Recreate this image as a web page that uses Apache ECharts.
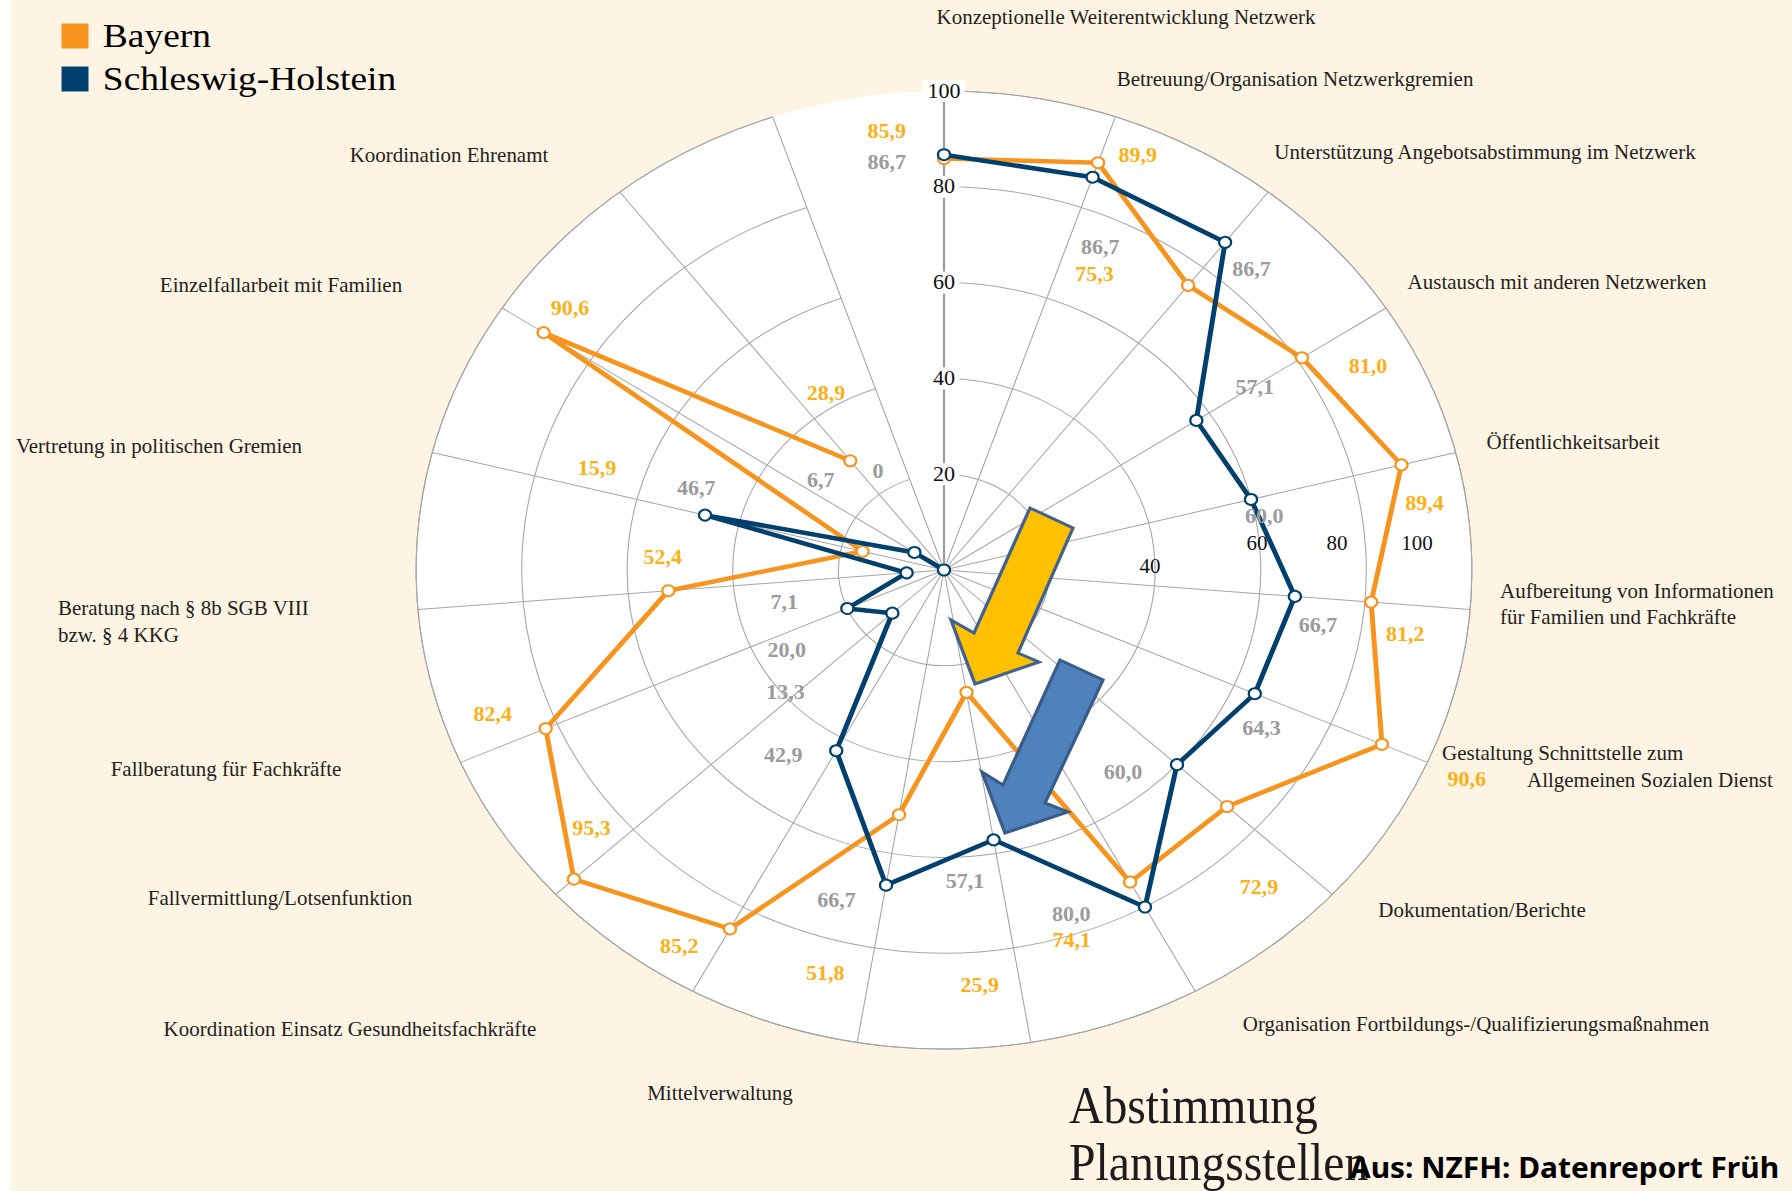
<!DOCTYPE html>
<html><head><meta charset="utf-8">
<script src="https://cdn.jsdelivr.net/npm/echarts@6/dist/echarts.min.js"></script>
<style>
html,body{margin:0;padding:0;width:1792px;height:1191px;overflow:hidden;background:#FEF4E4;}
#chart{position:absolute;left:0;top:0;width:1792px;height:1191px;transform:scaleX(1.102);transform-origin:944px 0;}
#strip{position:absolute;left:0;top:0;width:11px;height:1191px;background:#fff;z-index:5;}
</style></head><body>
<div id="chart"></div><div id="strip"></div>
<script>
// ---------- data ----------
const categories = [
  'Konzeptionelle Weiterentwicklung Netzwerk',
  'Betreuung/Organisation Netzwerkgremien',
  'Unterstützung Angebotsabstimmung im Netzwerk',
  'Austausch mit anderen Netzwerken',
  'Öffentlichkeitsarbeit',
  'Aufbereitung von Informationen\nfür Familien und Fachkräfte',
  'Gestaltung Schnittstelle zum\nAllgemeinen Sozialen Dienst',
  'Dokumentation/Berichte',
  'Organisation Fortbildungs-/Qualifizierungsmaßnahmen',
  'Abstimmung\nPlanungsstellen',
  'Mittelverwaltung',
  'Koordination Einsatz Gesundheitsfachkräfte',
  'Fallvermittlung/Lotsenfunktion',
  'Fallberatung für Fachkräfte',
  'Beratung nach § 8b SGB VIII\nbzw. § 4 KKG',
  'Vertretung in politischen Gremien',
  'Einzelfallarbeit mit Familien',
  'Koordination Ehrenamt',
  ''
];
const bayern = [85.9, 89.9, 75.3, 81.0, 89.4, 81.2, 90.6, 72.9, 74.1, 25.9, 51.8, 85.2, 95.3, 82.4, 52.4, 15.9, 90.6, 28.9, null];
const schleswigHolstein = [86.7, 86.7, 86.7, 57.1, 60.0, 66.7, 64.3, 60.0, 80.0, 57.1, 66.7, 42.9, 13.3, 20.0, 7.1, 46.7, 6.7, 0, null];
const seriesNames = ['Bayern', 'Schleswig-Holstein'];
const radiusMin = 0, radiusMax = 100, radiusStep = 20;
const extraAxisTickLabels = ['40', '60', '80', '100'];
const sourceNote = 'Aus: NZFH: Datenreport Früh';

// ---------- layout / style (not data) ----------
const K = 1.102, CX = 944, CY = 570, R = 479;
const px = x => CX + (x - CX) / K;
const bayernLabelOffsets = [[-52,-27],[36,-7],[-85,-11],[60,9],[21,38],[31,32],[77,35],[29,81],[-53,58],[12,293],[-67,159],[-46,17],[16,-51],[-48,-14],[-5,-33],[-241,-83],[24,-24],[-22,-67],[0,0]];
const shLabelOffsets = [[-52,8],[7,70],[24,27],[53,-33],[12,17],[21,29],[6,35],[-49,8],[-67,7],[-26,42],[-45,15],[-48,5],[-97,79],[-55,42],[-111,30],[-8,-27],[-85,-72],[-60,-99],[0,0]];
const catLabelPos = [
  [[1126,17,'center']], [[1295,79,'center']], [[1485,152,'center']], [[1557,282,'center']],
  [[1573,442,'center']], [[1500,591,'left'],[1500,617,'left']], [[1442,753,'left'],[1527,780,'left']],
  [[1482,910,'center']], [[1476,1024,'center']], [[1069,1106,'left'],[1069,1163,'left']],
  [[720,1093,'center']], [[350,1029,'center']], [[280,898,'center']], [[226,769,'center']],
  [[58,608,'left'],[58,635,'left']], [[159,446,'center']], [[281,285,'center']], [[449,155,'center']], []
];
const extraAxisPos = [[1150,566],[1257,543],[1337,543],[1417,543]];
const ORANGE = '#F7941D', BLUE = '#00406E', ORANGE_TXT = '#FBB017', GRAY_TXT = '#9B9B9B', GRID = '#A6A6A6';
const serif = '"Liberation Serif","Times New Roman",serif';

const fmt = v => (v === 0 ? '0' : Number(v).toFixed(1).replace('.', ','));

function txt(text, X, Y, align, font, fill, sx) {
  return { type: 'text', x: px(X), y: Y, scaleX: (sx || 1) / K, z: 50, silent: true,
    style: { text: text, font: font, fill: fill, align: align, textAlign: align,
             verticalAlign: 'middle', textVerticalAlign: 'middle' } };
}

const graphics = [];
// white plot disc behind the polar grid
graphics.push({ type: 'circle', z: -10, silent: true, shape: { cx: CX, cy: CY, r: R }, style: { fill: '#ffffff' } });
categories.forEach((c, i) => {
  const lines = c.split('\n');
  catLabelPos[i].forEach((p, j) => {
    if (i === 9) {
      graphics.push(txt(lines[j], p[0], p[1], p[2], '52px ' + serif, '#1E1B1C', 0.917));
    } else {
      graphics.push(txt(lines[j], p[0], p[1], p[2], '21px ' + serif, '#231F20', 1));
    }
  });
});
extraAxisTickLabels.forEach((t, i) => {
  graphics.push(txt(t, extraAxisPos[i][0], extraAxisPos[i][1], 'center', '21px ' + serif, '#111', 1));
});
graphics.push(txt(sourceNote, 1350, 1167, 'left', 'bold 29px "Noto Sans", sans-serif', '#000', 1.03));

const arrowPts = (pts) => pts.map(p => [px(p[0]), p[1]]);
graphics.push({ type: 'polygon', z: 40, silent: true,
  shape: { points: arrowPts([[1030,508],[1073,528],[1018,653],[1039,662],[975,684],[951,620],[974,633]]) },
  style: { fill: '#FFC000', stroke: '#41628F', lineWidth: 3, lineJoin: 'miter' } });
graphics.push({ type: 'polygon', z: 40, silent: true,
  shape: { points: arrowPts([[1060,660],[1103,680],[1045,803],[1068,812],[1005,833],[982,772],[1003,785]]) },
  style: { fill: '#4F81BD', stroke: '#385D8A', lineWidth: 3, lineJoin: 'miter' } });

function buildData(vals, offs) {
  return vals.map((v, i) => v == null ? '-' : { value: v, label: { offset: offs[i] } });
}

const chart = echarts.init(document.getElementById('chart'), null, { renderer: 'svg' });
chart.setOption({
  backgroundColor: '#FEF4E4',
  animation: false,
  legend: {
    data: seriesNames, orient: 'vertical', left: px(56), top: 14, itemWidth: 24.5, itemHeight: 25,
    itemGap: 9, icon: 'rect', selectedMode: false,
    itemStyle: { borderWidth: 0 },
    textStyle: { fontFamily: serif, fontSize: 34, lineHeight: 34, color: '#000', padding: [0, 0, 0, 8] }
  },
  polar: { center: [CX, CY], radius: R },
  angleAxis: {
    type: 'category', data: categories, boundaryGap: false, startAngle: 90, clockwise: true, z: 1,
    axisLine: { show: true, lineStyle: { color: GRID, width: 1 } },
    axisTick: { show: false }, axisLabel: { show: false },
    splitLine: { show: true, lineStyle: { color: GRID, width: 1 } }
  },
  radiusAxis: {
    type: 'value', min: radiusMin, max: radiusMax, interval: radiusStep, z: 3,
    axisLine: { show: true, lineStyle: { color: '#9C9C9C', width: 2 } },
    axisTick: { show: false },
    axisLabel: { show: true, showMinLabel: false, margin: 0, align: 'center', verticalAlign: 'middle',
      fontFamily: serif, fontSize: 20, color: '#111', backgroundColor: '#fff', padding: [1, 4],
      formatter: v => (v === 0 ? '' : String(v)) },
    splitLine: { show: true, lineStyle: { color: GRID, width: 1 } },
    splitArea: { show: false }
  },
  series: [
    { name: seriesNames[0], type: 'line', coordinateSystem: 'polar', data: buildData(bayern, bayernLabelOffsets),
      symbol: 'emptyCircle', symbolSize: 11, connectNulls: false, z: 4,
      lineStyle: { color: ORANGE, width: 4.5 }, itemStyle: { color: ORANGE, borderWidth: 2.5 },
      label: { show: true, position: 'inside', formatter: p => fmt(p.value), fontFamily: serif,
        fontWeight: 'bold', fontSize: 20, color: ORANGE_TXT },
      emphasis: { disabled: true } },
    { name: seriesNames[1], type: 'line', coordinateSystem: 'polar', data: buildData(schleswigHolstein, shLabelOffsets),
      symbol: 'emptyCircle', symbolSize: 11, connectNulls: false, z: 5,
      lineStyle: { color: BLUE, width: 4.5 }, itemStyle: { color: BLUE, borderWidth: 2.5 },
      label: { show: true, position: 'inside', formatter: p => fmt(p.value), fontFamily: serif,
        fontWeight: 'bold', fontSize: 20, color: GRAY_TXT },
      emphasis: { disabled: true } }
  ],
  graphic: { elements: graphics }
});
</script></body></html>
